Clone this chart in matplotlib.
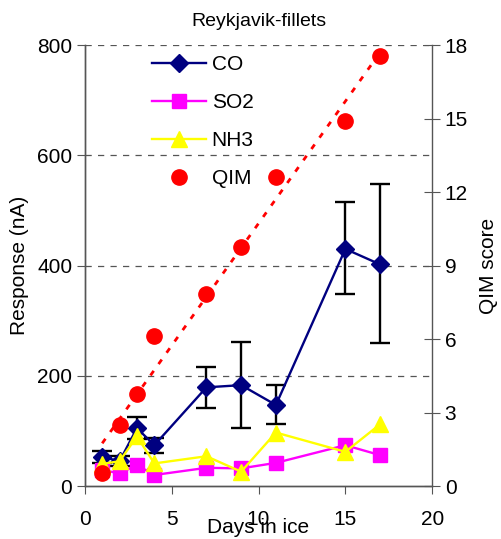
import matplotlib.pyplot as plt
import numpy as np

plt.rcParams['font.family'] = ['Liberation Sans', 'DejaVu Sans']

days = [1, 2, 3, 4, 7, 9, 11, 15, 17]

co = [53, 45, 105, 74, 179, 183, 147, 430, 402]
co_err_hi = [64, 54, 125, 88, 215, 262, 183, 515, 548]
co_err_lo = [42, 36, 85, 59, 141, 105, 112, 348, 259]

so2 = [29, 23, 38, 20, 33, 32, 42, 74, 56]
nh3 = [40, 45, 90, 41, 54, 26, 97, 62, 112]
qim = [0.52, 2.49, 3.76, 6.12, 7.84, 9.74, 12.6, 14.9, 17.55]

fig = plt.figure(figsize=(5.02, 5.39), dpi=100)
ax = fig.add_axes([0.169, 0.0983, 0.692, 0.8182])
ax2 = ax.twinx()

co = np.array(co)
yerr = [co - np.array(co_err_lo), np.array(co_err_hi) - co]

for y in [200, 400, 600, 800]:
    ax.axhline(y, color='#555555', lw=0.9, ls=(0, (5, 5)), zorder=0)

ax.errorbar(days, co, yerr=yerr, fmt='none', ecolor='black', elinewidth=1.7,
            capsize=7.5, capthick=1.7, zorder=2)
l_co, = ax.plot(days, co, color='#000080', lw=1.7, marker='D', ms=9, label='CO', zorder=3)
l_so2, = ax.plot(days, so2, color='#ff00ff', lw=1.7, marker='s', ms=10, label='SO2', zorder=3)
l_nh3, = ax.plot(days, nh3, color='#ffff00', lw=1.7, marker='^', ms=11, label='NH3', zorder=3)

# linear trend through the QIM scores
k, b = np.polyfit(days, qim, 1)
xs = np.array([days[0], days[-1]])
ax2.plot(xs, k * xs + b, color='#ff0000', lw=2, ls=(0, (2, 3)), zorder=1)
l_qim, = ax2.plot(days, qim, 'o', color='#ff0000', ms=11, label='QIM', zorder=3)

ax.set_xlim(0, 20)
ax.set_ylim(0, 800)
ax2.set_ylim(0, 18)
ax.set_xticks([0, 5, 10, 15, 20])
ax.set_yticks([0, 200, 400, 600, 800])
ax2.set_yticks([0, 3, 6, 9, 12, 15, 18])

for a in (ax, ax2):
    a.spines['top'].set_visible(False)
    for s in a.spines.values():
        s.set_color('#555555')
        s.set_linewidth(1)
ax.spines['right'].set_visible(False)

ax.tick_params(axis='y', direction='out', length=6, labelsize=15, color='#555555', pad=3)
ax.tick_params(axis='x', direction='out', length=6, labelsize=15, color='#555555', pad=11.5)
ax2.tick_params(axis='y', direction='inout', length=12, labelsize=15, color='#555555', pad=3)

ax.set_title('Reykjavik-fillets', fontsize=14, pad=14)
ax.set_xlabel('Days in ice', fontsize=15, labelpad=-8)
ax.set_ylabel('Response (nA)', fontsize=15, labelpad=6)
ax2.set_ylabel('QIM score', fontsize=15, labelpad=8)

leg = ax.legend(handles=[l_co, l_so2, l_nh3, l_qim], loc='upper left',
                bbox_to_anchor=(0.14, 1.02), frameon=False, fontsize=15,
                handlelength=2.6, labelspacing=0.92, handletextpad=0.25)

fig.savefig('out.png', dpi=100)
